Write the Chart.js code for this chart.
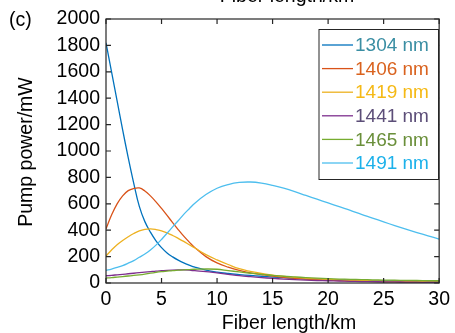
<!DOCTYPE html>
<html>
<head>
<meta charset="utf-8">
<script src="https://cdn.jsdelivr.net/npm/chart.js@4"></script>
<style>
  html, body { margin: 0; padding: 0; background: #fff; }
  #wrap { width: 455px; height: 333px; }
</style>
</head>
<body>
<div id="wrap"><canvas id="myChartPump" width="455" height="333"></canvas></div>
<script>
// fiber length, km (finer steps where the curves bend most)
const fiberKm = [0, 0.5, 1, 1.5, 2, 2.5, 3, 3.5, 4, 4.5, 5, 5.5, 6, 6.5, 7, 7.5, 8,
    9, 10, 11, 12, 13, 14, 15, 16, 17, 18, 19, 20, 21, 22, 23, 24, 25, 26, 27, 28, 29, 30];

// pump power, mW
const p1304 = [1820, 1600, 1380, 1160, 950, 755, 580, 465, 385, 320, 268, 228, 198, 173, 152, 135, 120,
    97, 82, 72, 64, 57, 51, 45, 40, 36, 32, 29, 26, 24, 22, 20, 18, 17, 15, 14, 13, 12, 11];
const p1406 = [410, 515, 600, 660, 700, 716, 720, 697, 660, 615, 565, 512, 458, 405, 355, 310, 268,
    200, 152, 120, 95, 77, 64, 52, 43, 36, 30, 25, 21, 18, 15, 13, 11, 9, 8, 7, 6, 5, 4];
const p1419 = [205, 250, 290, 322, 350, 375, 395, 406, 410, 405, 395, 380, 360, 338, 315, 290, 265,
    215, 175, 140, 108, 88, 72, 60, 50, 42, 36, 31, 27, 24, 21, 18, 16, 14, 12, 11, 10, 9, 8];
const p1441 = [55, 58, 62, 66, 70, 74, 78, 82, 86, 90, 93, 96, 98, 99, 99, 97, 93,
    86, 76, 66, 56, 48, 41, 35, 30, 26, 22, 19, 17, 15, 13, 11, 10, 9, 8, 7, 6, 5, 5];
const p1465 = [38, 41, 45, 49, 53, 57, 62, 68, 75, 81, 86, 90, 94, 97, 100, 102, 104,
    106, 104, 94, 84, 74, 65, 58, 51, 46, 41, 37, 33, 30, 28, 26, 24, 22, 21, 20, 19, 18, 17];
const p1491 = [96, 106, 118, 132, 150, 170, 195, 220, 250, 287, 330, 377, 425, 472, 520, 563, 605,
    670, 718, 746, 762, 765, 757, 740, 718, 692, 663, 635, 607, 578, 550, 520, 492, 463, 435, 408, 382, 357, 333];

const seriesLabels = ['1304 nm', '1406 nm', '1419 nm', '1441 nm', '1465 nm', '1491 nm'];
const seriesData = [p1304, p1406, p1419, p1441, p1465, p1491];
const lineColors = ['#0072BD', '#D95319', '#EDB120', '#7E2F8E', '#77AC30', '#4DBEEE'];
const textColors = ['#3a8ea3', '#d9621e', '#f5b915', '#5c4e78', '#6a8f3a', '#1cb1ea'];

const xTicks = [0, 5, 10, 15, 20, 25, 30];
const yTicks = [0, 200, 400, 600, 800, 1000, 1200, 1400, 1600, 1800, 2000];

const FONT = '"Liberation Sans", Arial, sans-serif';

// box, inward ticks on all sides, titles and legend, MATLAB style
const matlabAxes = {
    id: 'matlabAxes',
    afterDraw(chart) {
        const ctx = chart.ctx;
        const a = chart.chartArea;
        const xs = chart.scales.x;
        const ys = chart.scales.y;
        ctx.save();
        ctx.strokeStyle = '#262626';
        ctx.lineWidth = 1.2;
        ctx.strokeRect(a.left, a.top, a.right - a.left, a.bottom - a.top);
        ctx.beginPath();
        xTicks.forEach(v => {
            const px = xs.getPixelForValue(v);
            ctx.moveTo(px, a.bottom); ctx.lineTo(px, a.bottom - 5);
            ctx.moveTo(px, a.top); ctx.lineTo(px, a.top + 5);
        });
        yTicks.forEach(v => {
            const py = ys.getPixelForValue(v);
            ctx.moveTo(a.left, py); ctx.lineTo(a.left + 5, py);
            ctx.moveTo(a.right, py); ctx.lineTo(a.right - 5, py);
        });
        ctx.stroke();

        // titles
        ctx.fillStyle = '#000';
        ctx.font = '19.5px ' + FONT;
        ctx.textAlign = 'center';
        ctx.textBaseline = 'alphabetic';
        ctx.fillText('Fiber length/km', 289, 329);
        ctx.fillText('Fiber length/km', 287, 2);
        ctx.textAlign = 'left';
        ctx.textBaseline = 'middle';
        ctx.fillText('(c)', 9, 21);
        ctx.save();
        ctx.translate(27, 152);
        ctx.rotate(-Math.PI / 2);
        ctx.textAlign = 'center';
        ctx.fillText('Pump power/mW', 0, 0);
        ctx.restore();

        // legend
        const lx = 319, ly = 29.5, lw = 119.5, lh = 150;
        ctx.fillStyle = '#fff';
        ctx.fillRect(lx, ly, lw, lh);
        ctx.strokeStyle = '#262626';
        ctx.lineWidth = 1;
        ctx.strokeRect(lx, ly, lw, lh);
        ctx.font = '19px ' + FONT;
        seriesLabels.forEach((lab, i) => {
            const yy = 45 + i * 23.6;
            ctx.strokeStyle = lineColors[i];
            ctx.lineWidth = 1.3;
            ctx.beginPath();
            ctx.moveTo(322, yy); ctx.lineTo(353, yy);
            ctx.stroke();
            ctx.fillStyle = textColors[i];
            ctx.textAlign = 'left';
            ctx.fillText(lab, 355, yy + 1);
        });
        ctx.restore();
    }
};

const myChartPump = new Chart(
    document.getElementById('myChartPump'),
    {
        type: 'line',
        data: {
            datasets: seriesData.map((vals, i) => ({
                label: seriesLabels[i],
                data: vals.map((v, j) => ({ x: fiberKm[j], y: v })),
                borderColor: lineColors[i],
                backgroundColor: lineColors[i],
                borderWidth: 1.3,
                pointRadius: 0,
                tension: 0.4,
                order: seriesData.length - i,
            }))
        },
        options: {
            responsive: false,
            animation: false,
            events: [],
            layout: {
                padding: { left: 0, top: 19, right: 12, bottom: 0 }
            },
            plugins: {
                legend: { display: false },
                title: { display: false },
                tooltip: { enabled: false }
            },
            scales: {
                x: {
                    type: 'linear',
                    min: 0,
                    max: 30,
                    afterFit: s => { s.height = 50; },
                    afterBuildTicks: s => { s.ticks = xTicks.map(v => ({ value: v })); },
                    grid: { display: false, drawTicks: false },
                    border: { display: false },
                    ticks: {
                        color: '#000',
                        padding: 5,
                        maxRotation: 0,
                        font: { family: FONT, size: 19.5 },
                        callback: v => String(v)
                    }
                },
                y: {
                    min: 0,
                    max: 2000,
                    afterFit: s => { s.width = 106; },
                    afterBuildTicks: s => { s.ticks = yTicks.map(v => ({ value: v })); },
                    grid: { display: false, drawTicks: false },
                    border: { display: false },
                    ticks: {
                        color: '#000',
                        padding: 6,
                        font: { family: FONT, size: 19.5 },
                        callback: v => String(v)
                    }
                }
            }
        },
        plugins: [matlabAxes]
    }
);
</script>
</body>
</html>
